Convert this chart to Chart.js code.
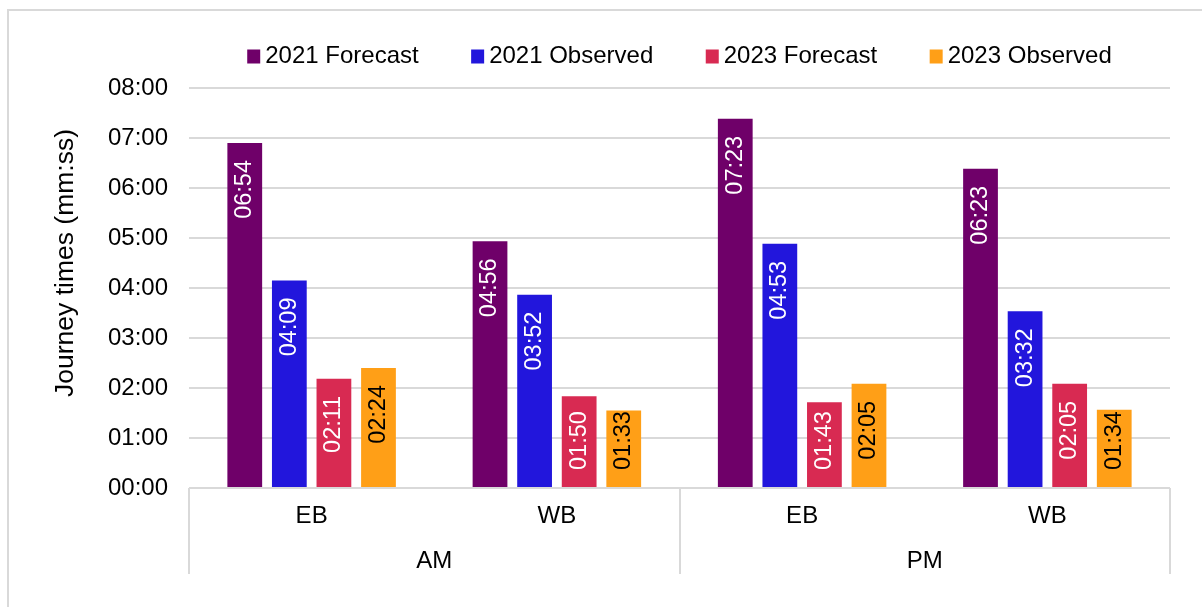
<!DOCTYPE html>
<html lang="en">

<head>
  <meta charset="UTF-8">
  <meta name="viewport" content="width=device-width, initial-scale=1.0">
  <title>Journey times</title>
  <script src="https://cdn.jsdelivr.net/npm/chart.js@4.4.1/dist/chart.umd.min.js"></script>
  <style>
    body { margin: 0; background: #fff; overflow: hidden; }
    #frame { position: absolute; left: 7px; top: 9px; width: 1300px; height: 700px;
      border-left: 2px solid #d9d9d9; border-top: 2px solid #d9d9d9; }
    #chart { position: absolute; left: 0; top: 0; }
  </style>
</head>

<body>
  <div id="frame"></div>
  <canvas id="chart" width="1202" height="607"></canvas>
  <script>
    const directions = ['EB', 'WB', 'EB', 'WB'];
    const periods = ['AM', 'PM'];
    const seriesNames = ['2021 Forecast', '2021 Observed', '2023 Forecast', '2023 Observed'];
    const forecast2021 = ['06:54', '04:56', '07:23', '06:23'];
    const observed2021 = ['04:09', '03:52', '04:53', '03:32'];
    const forecast2023 = ['02:11', '01:50', '01:43', '02:05'];
    const observed2023 = ['02:24', '01:33', '02:05', '01:34'];
    const yTicks = ['00:00', '01:00', '02:00', '03:00', '04:00', '05:00', '06:00', '07:00', '08:00'];
    const axisTitle = 'Journey times (mm:ss)';

    const colors = ['#6f0069', '#2216dc', '#d82a52', '#ff9f17'];
    const labelColors = ['#fff', '#fff', '#fff', '#000'];
    const FONT = "'Liberation Sans', Arial, sans-serif";

    // 'mm:ss' -> minutes
    function toMinutes(t) {
      const [m, s] = t.split(':').map(Number);
      return m + s / 60;
    }

    const series = [forecast2021, observed2021, forecast2023, observed2023];

    const extras = {
      id: 'extras',
      afterDatasetsDraw(chart) {
        const ctx = chart.ctx;
        ctx.save();
        ctx.font = '23.5px ' + FONT;
        ctx.textAlign = 'center';
        ctx.textBaseline = 'middle';
        chart.data.datasets.forEach((ds, i) => {
          chart.getDatasetMeta(i).data.forEach((bar, j) => {
            const text = ds.rawTimes[j];
            const w = ctx.measureText(text).width;
            const top = Math.min(bar.y + 17, bar.base - 17 - w);
            ctx.save();
            ctx.translate(bar.x, top + w / 2);
            ctx.rotate(-Math.PI / 2);
            ctx.fillStyle = ds.labelColor;
            ctx.fillText(text, 0, 0);
            ctx.restore();
          });
        });
        ctx.restore();
      },
      afterDraw(chart) {
        const ctx = chart.ctx;
        const area = chart.chartArea;
        const x = chart.scales.x;
        ctx.save();

        // period separators + labels
        const perGroup = directions.length / periods.length;
        ctx.strokeStyle = '#d9d9d9';
        ctx.lineWidth = 2;
        for (let g = 0; g <= periods.length; g++) {
          const px = Math.round(x.getPixelForValue(g * perGroup - 0.5));
          ctx.beginPath();
          ctx.moveTo(px, area.bottom);
          ctx.lineTo(px, 574);
          ctx.stroke();
        }
        ctx.fillStyle = '#000';
        ctx.font = '24px ' + FONT;
        ctx.textAlign = 'center';
        ctx.textBaseline = 'alphabetic';
        periods.forEach((p, g) => {
          const px = x.getPixelForValue(g * perGroup + (perGroup - 1) / 2);
          ctx.fillText(p, px, 568);
        });

        // y axis title
        ctx.save();
        ctx.translate(65.5, 263);
        ctx.rotate(-Math.PI / 2);
        ctx.font = '26.5px ' + FONT;
        ctx.textBaseline = 'middle';
        ctx.fillText(axisTitle, 0, 0);
        ctx.restore();

        // legend
        ctx.font = '24px ' + FONT;
        ctx.textAlign = 'left';
        ctx.textBaseline = 'middle';
        const gap = 52.5;
        const items = chart.data.datasets.map(ds => ({ ds, w: 18 + ctx.measureText(ds.label).width }));
        const total = items.reduce((a, it) => a + it.w, 0) + gap * (items.length - 1);
        let lx = (area.left + area.right) / 2 - total / 2;
        items.forEach(it => {
          ctx.fillStyle = it.ds.backgroundColor;
          ctx.fillRect(lx, 49.5, 13, 14);
          ctx.fillStyle = '#000';
          ctx.fillText(it.ds.label, lx + 18, 56);
          lx += it.w + gap;
        });
        ctx.restore();
      }
    };

    const ctx = document.getElementById('chart').getContext('2d');
    const myChart = new Chart(ctx, {
      type: 'bar',
      data: {
        labels: directions,
        datasets: series.map((s, i) => ({
          label: seriesNames[i],
          data: s.map(toMinutes),
          rawTimes: s,
          labelColor: labelColors[i],
          backgroundColor: colors[i],
          barPercentage: 0.78,
          categoryPercentage: 0.727
        }))
      },
      options: {
        responsive: false,
        animation: false,
        layout: { padding: { top: 88, right: 32, left: 0, bottom: 0 } },
        plugins: {
          legend: { display: false },
          tooltip: { enabled: false }
        },
        scales: {
          x: {
            grid: { display: false, drawTicks: false },
            border: { display: false },
            ticks: { color: '#000', font: { family: FONT, size: 24 }, padding: 14 },
            afterFit: s => { s.height = 119; }
          },
          y: {
            min: 0,
            max: 8,
            grid: { color: '#d9d9d9', lineWidth: 2, drawTicks: false },
            border: { display: false },
            ticks: {
              stepSize: 1,
              padding: 21,
              color: '#000',
              font: { family: FONT, size: 24 },
              callback: v => yTicks[v]
            },
            afterFit: s => { s.width = 189; }
          }
        }
      },
      plugins: [extras]
    });
  </script>
</body>

</html>
